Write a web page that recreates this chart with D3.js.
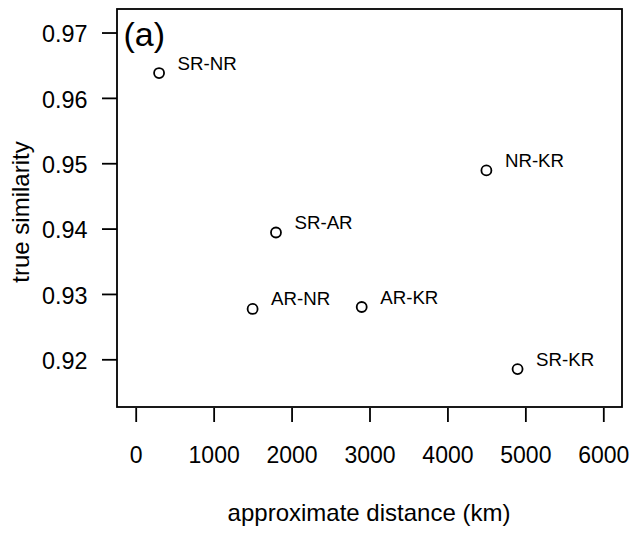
<!DOCTYPE html>
<html>
<head>
<meta charset="utf-8">
<script src="https://cdn.jsdelivr.net/npm/d3@7"></script>
<style>
  body { margin: 0; background: #fff; }
  text { font-family: "Liberation Sans", Arial, sans-serif; fill: #000; }
</style>
</head>
<body>
<svg id="chart" width="635" height="533"></svg>
<script>
// pairs of regions, distance (km) vs similarity
var pairs = ['SR-NR', 'SR-AR', 'AR-NR', 'AR-KR', 'NR-KR', 'SR-KR'];
var distance = [300, 1800, 1500, 2900, 4500, 4900];
var similarity = [0.9638, 0.9394, 0.9277, 0.9280, 0.9489, 0.9185];

var xTicks = [0, 1000, 2000, 3000, 4000, 5000, 6000];
var yTicks = [0.92, 0.93, 0.94, 0.95, 0.96, 0.97];

// plot region (pixels)
var boxLeft = 117,
    boxRight = 622,
    boxTop = 9,
    boxBottom = 407;

var svg = d3.select('#chart');

// R style: limits padded by 4% on each side
var x = d3.scaleLinear()
    .domain([-240, 6240])
    .range([boxLeft, boxRight]);

var y = d3.scaleLinear()
    .domain([0.9127, 0.9736])
    .range([boxBottom, boxTop]);

// plot box
svg.append('rect')
    .attr('x', boxLeft)
    .attr('y', boxTop)
    .attr('width', boxRight - boxLeft)
    .attr('height', boxBottom - boxTop)
    .attr('fill', 'none')
    .attr('stroke', '#000')
    .attr('stroke-width', 1.8);

// x axis
var gx = svg.append('g')
    .attr('transform', 'translate(0,' + (boxBottom + 1) + ')')
    .call(d3.axisBottom(x).tickValues(xTicks).tickSize(14).tickFormat(d3.format('d')));

gx.attr('font-size', null).attr('font-family', null);
gx.select('.domain').remove();
gx.selectAll('.tick line').attr('stroke', '#000').attr('stroke-width', 1.8);
gx.selectAll('.tick text')
    .attr('y', 54.5)
    .attr('dy', null)
    .attr('fill', '#000')
    .style('font-size', '23px');

// y axis
var gy = svg.append('g')
    .attr('transform', 'translate(' + boxLeft + ',0)')
    .call(d3.axisLeft(y).tickValues(yTicks).tickSize(15).tickFormat(d3.format('.2f')));

gy.attr('font-size', null).attr('font-family', null);
gy.select('.domain').remove();
gy.selectAll('.tick line').attr('stroke', '#000').attr('stroke-width', 1.8);
gy.selectAll('.tick text')
    .attr('x', -29.5)
    .attr('dy', null)
    .attr('y', 9.4)
    .attr('fill', '#000')
    .style('font-size', '23.4px');

// axis titles
svg.append('text')
    .attr('x', 369)
    .attr('y', 520.5)
    .attr('text-anchor', 'middle')
    .style('font-size', '24px')
    .text('approximate distance (km)');

svg.append('text')
    .attr('transform', 'translate(29,212) rotate(-90)')
    .attr('text-anchor', 'middle')
    .style('font-size', '24px')
    .text('true similarity');

// panel tag
svg.append('text')
    .attr('x', 123.5)
    .attr('y', 45.5)
    .style('font-size', '34px')
    .text('(a)');

// points
var pts = svg.append('g');

pts.selectAll('circle')
    .data(pairs)
    .enter().append('circle')
    .attr('cx', function(d, i) { return x(distance[i]); })
    .attr('cy', function(d, i) { return y(similarity[i]); })
    .attr('r', 5)
    .attr('fill', 'none')
    .attr('stroke', '#000')
    .attr('stroke-width', 1.8);

pts.selectAll('text')
    .data(pairs)
    .enter().append('text')
    .attr('x', function(d, i) { return x(distance[i]) + 18.5; })
    .attr('y', function(d, i) { return y(similarity[i]) - 3.5; })
    .style('font-size', '18.7px')
    .text(function(d) { return d; });
</script>
</body>
</html>
